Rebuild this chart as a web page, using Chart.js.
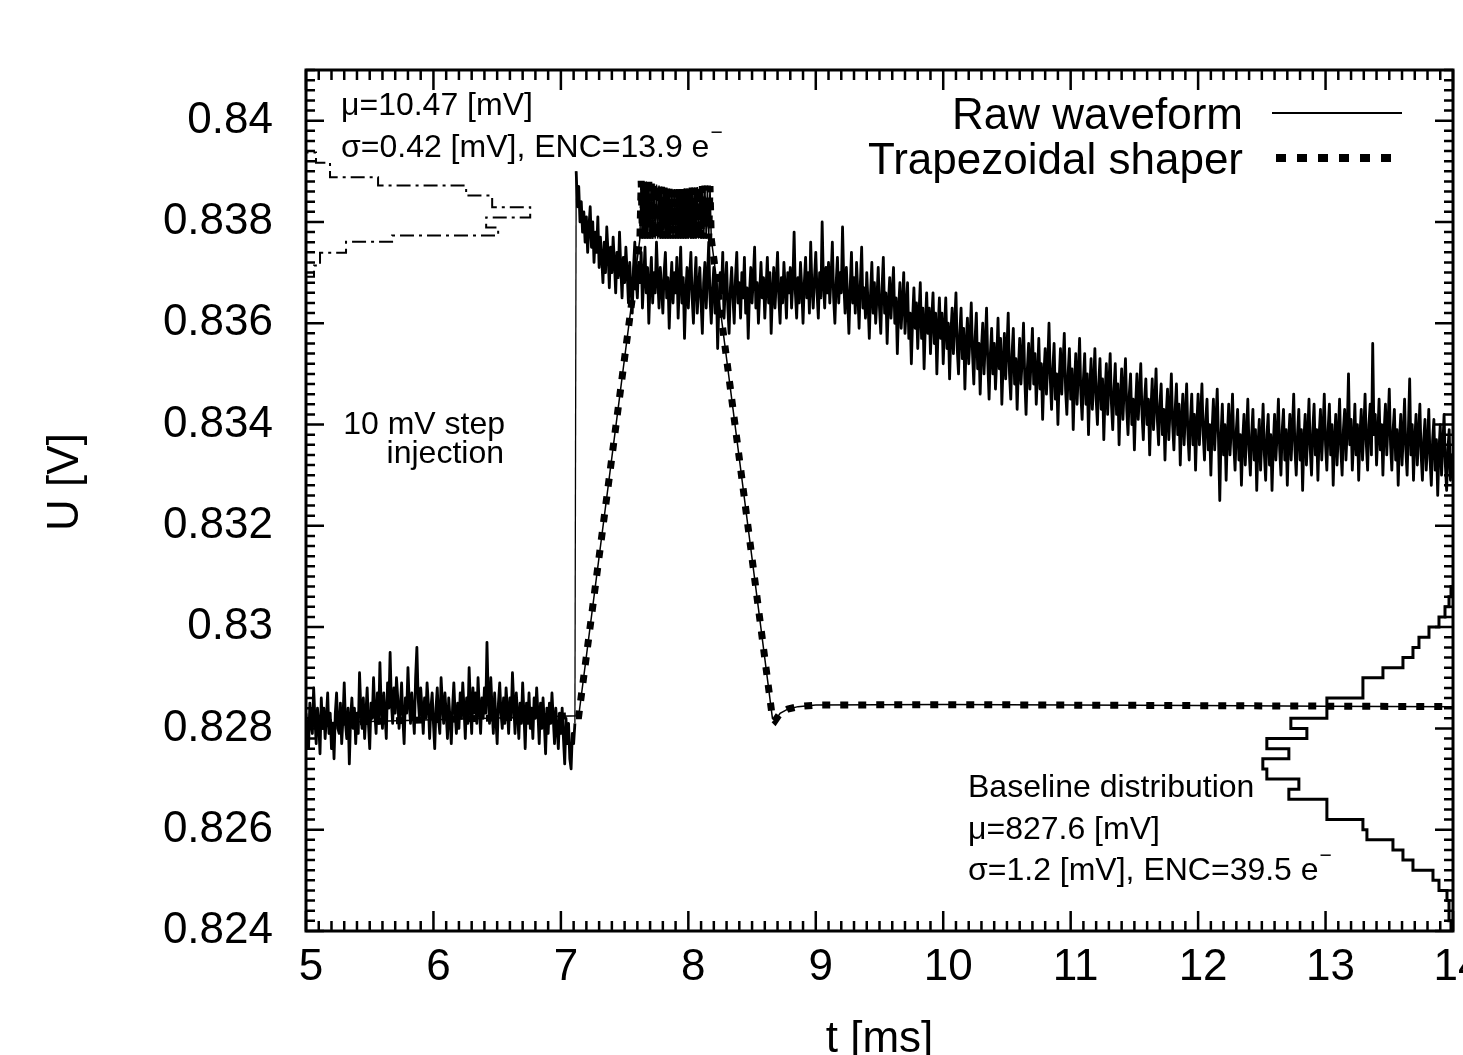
<!DOCTYPE html>
<html><head><meta charset="utf-8">
<script src="https://cdn.jsdelivr.net/npm/chart.js@4.4.1/dist/chart.umd.min.js"></script>
<style>html,body{margin:0;padding:0;background:#fff;overflow:hidden}canvas{display:block}</style>
</head><body>
<canvas id="c" width="1463" height="1055" style="width:1463px;height:1055px"></canvas>
<script>
// ---------------- data ----------------
const xTickLabels = ['5','6','7','8','9','10','11','12','13','14'];
const yTickLabels = ['0.824','0.826','0.828','0.83','0.832','0.834','0.836','0.838','0.84'];
const X_MINOR = 0.1, Y_MINOR = 0.0002;

// raw waveform sampled every T_STEP ms starting at T_START ms (one row = 0.1 ms)
const T_START = 5.0, T_STEP = 0.01;
const rawWaveform = [
0.8283,0.8279,0.8276,0.8285,0.8281,0.8279,0.8288,0.8282,0.8277,0.8284,
0.8281,0.8275,0.8286,0.8280,0.8284,0.8278,0.8282,0.8287,0.8279,0.8283,
0.8276,0.8281,0.8274,0.8283,0.8287,0.8280,0.8279,0.8285,0.8277,0.8282,
0.8289,0.8281,0.8278,0.8284,0.8273,0.8282,0.8286,0.8280,0.8284,0.8277,
0.8283,0.8279,0.8291,0.8284,0.8280,0.8286,0.8278,0.8283,0.8288,0.8281,
0.8276,0.8285,0.8282,0.8290,0.8283,0.8279,0.8287,0.8281,0.8293,0.8284,
0.8280,0.8287,0.8283,0.8278,0.8289,0.8284,0.8295,0.8285,0.8281,0.8288,
0.8283,0.8290,0.8286,0.8280,0.8284,0.8289,0.8282,0.8277,0.8286,0.8283,
0.8292,0.8285,0.8281,0.8287,0.8283,0.8279,0.8290,0.8296,0.8286,0.8282,
0.8288,0.8284,0.8279,0.8286,0.8282,0.8289,0.8285,0.8278,0.8284,0.8287,
0.8281,0.8276,0.8284,0.8288,0.8282,0.8279,0.8290,0.8285,0.8281,0.8287,
0.8283,0.8278,0.8286,0.8282,0.8277,0.8284,0.8289,0.8283,0.8279,0.8285,
0.8280,0.8287,0.8282,0.8289,0.8284,0.8278,0.8286,0.8281,0.8292,0.8285,
0.8279,0.8288,0.8283,0.8287,0.8281,0.8290,0.8284,0.8279,0.8286,0.8282,
0.8288,0.8283,0.8297,0.8286,0.8281,0.8290,0.8284,0.8279,0.8287,0.8282,
0.8277,0.8285,0.8289,0.8283,0.8280,0.8286,0.8281,0.8288,0.8284,0.8279,
0.8286,0.8282,0.8291,0.8285,0.8279,0.8287,0.8283,0.8278,0.8285,0.8281,
0.8289,0.8283,0.8276,0.8285,0.8281,0.8287,0.8280,0.8284,0.8278,0.8286,
0.8282,0.8288,0.8283,0.8277,0.8285,0.8280,0.8286,0.8281,0.8275,0.8284,
0.8279,0.8285,0.8281,0.8287,0.8282,0.8277,0.8284,0.8280,0.8276,0.8283,
0.8279,0.8284,0.8278,0.8273,0.8282,0.8277,0.8281,0.8274,0.8272,0.8279,
0.8277,0.8281,
0.8390,0.8383,0.8387,0.8380,0.8384,0.8378,0.8382,0.8376,
0.8381,0.8374,0.8379,0.8383,0.8375,0.8380,0.8372,0.8378,0.8374,0.8381,
0.8371,0.8377,0.8373,0.8368,0.8376,0.8370,0.8379,0.8374,0.8367,0.8375,
0.8370,0.8377,0.8372,0.8366,0.8374,0.8369,0.8378,0.8371,0.8365,0.8373,
0.8368,0.8375,0.8370,0.8364,0.8372,0.8367,0.8362,0.8371,0.8376,0.8369,
0.8365,0.8372,0.8368,0.8374,0.8363,0.8369,0.8375,0.8366,0.8371,0.8360,
0.8368,0.8373,0.8364,0.8370,0.8366,0.8376,0.8369,0.8363,0.8371,0.8367,
0.8362,0.8370,0.8374,0.8365,0.8369,0.8359,0.8367,0.8372,0.8364,0.8370,
0.8366,0.8373,0.8361,0.8368,0.8375,0.8364,0.8369,0.8357,0.8366,0.8371,
0.8363,0.8369,0.8374,0.8365,0.8360,0.8368,0.8373,0.8362,0.8367,0.8371,
0.8364,0.8358,0.8368,0.8372,0.8363,0.8369,0.8376,0.8365,0.8360,0.8367,
0.8371,0.8362,0.8368,0.8355,0.8364,0.8370,0.8366,0.8374,0.8361,0.8367,
0.8372,0.8363,0.8358,0.8367,0.8371,0.8365,0.8360,0.8369,0.8374,0.8364,
0.8368,0.8361,0.8370,0.8365,0.8373,0.8362,0.8367,0.8357,0.8366,0.8371,
0.8364,0.8369,0.8375,0.8363,0.8368,0.8360,0.8366,0.8372,0.8365,0.8369,
0.8361,0.8367,0.8373,0.8364,0.8370,0.8358,0.8366,0.8371,0.8363,0.8368,
0.8374,0.8365,0.8360,0.8369,0.8364,0.8372,0.8367,0.8361,0.8370,0.8366,
0.8371,0.8363,0.8368,0.8378,0.8366,0.8361,0.8369,0.8364,0.8372,0.8367,
0.8360,0.8368,0.8373,0.8365,0.8370,0.8362,0.8376,0.8367,0.8363,0.8369,
0.8374,0.8366,0.8361,0.8370,0.8365,0.8380,0.8368,0.8363,0.8371,0.8366,
0.8372,0.8364,0.8369,0.8376,0.8365,0.8360,0.8368,0.8373,0.8364,0.8370,
0.8366,0.8379,0.8368,0.8362,0.8371,0.8365,0.8358,0.8367,0.8374,0.8364,
0.8369,0.8362,0.8372,0.8366,0.8359,0.8368,0.8375,0.8363,0.8367,0.8361,
0.8370,0.8364,0.8357,0.8366,0.8372,0.8362,0.8368,0.8360,0.8365,0.8371,
0.8363,0.8358,0.8367,0.8373,0.8362,0.8366,0.8356,0.8364,0.8369,0.8361,
0.8366,0.8371,0.8360,0.8365,0.8354,0.8363,0.8368,0.8359,0.8364,0.8370,
0.8358,0.8363,0.8368,0.8357,0.8362,0.8352,0.8361,0.8367,0.8359,0.8364,
0.8355,0.8362,0.8368,0.8357,0.8363,0.8351,0.8360,0.8366,0.8358,0.8363,
0.8354,0.8361,0.8366,0.8356,0.8362,0.8350,0.8359,0.8365,0.8357,0.8362,
0.8352,0.8359,0.8365,0.8355,0.8360,0.8349,0.8358,0.8363,0.8354,0.8360,
0.8366,0.8355,0.8350,0.8358,0.8363,0.8353,0.8359,0.8347,0.8356,0.8361,
0.8352,0.8357,0.8364,0.8354,0.8348,0.8357,0.8362,0.8351,0.8356,0.8346,
0.8355,0.8360,0.8350,0.8356,0.8363,0.8352,0.8345,0.8354,0.8359,0.8350,
0.8356,0.8347,0.8353,0.8361,0.8351,0.8357,0.8344,0.8352,0.8358,0.8349,
0.8355,0.8362,0.8350,0.8345,0.8354,0.8359,0.8348,0.8353,0.8343,0.8351,
0.8357,0.8348,0.8353,0.8360,0.8349,0.8342,0.8351,0.8356,0.8347,0.8353,
0.8359,0.8348,0.8354,0.8344,0.8350,0.8357,0.8347,0.8352,0.8341,0.8350,
0.8355,0.8346,0.8352,0.8360,0.8349,0.8343,0.8351,0.8356,0.8345,0.8350,
0.8340,0.8349,0.8355,0.8346,0.8352,0.8358,0.8347,0.8342,0.8350,0.8355,
0.8345,0.8351,0.8339,0.8348,0.8354,0.8344,0.8350,0.8357,0.8346,0.8341,
0.8349,0.8354,0.8344,0.8350,0.8338,0.8347,0.8353,0.8343,0.8348,0.8355,
0.8345,0.8340,0.8348,0.8353,0.8343,0.8349,0.8337,0.8346,0.8352,0.8342,
0.8348,0.8354,0.8344,0.8339,0.8347,0.8352,0.8342,0.8348,0.8336,0.8345,
0.8351,0.8341,0.8347,0.8353,0.8343,0.8338,0.8346,0.8350,0.8340,0.8345,
0.8335,0.8344,0.8350,0.8341,0.8346,0.8352,0.8342,0.8337,0.8345,0.8349,
0.8340,0.8345,0.8334,0.8343,0.8349,0.8339,0.8344,0.8351,0.8341,0.8336,
0.8344,0.8348,0.8338,0.8343,0.8333,0.8342,0.8347,0.8337,0.8343,0.8350,
0.8340,0.8335,0.8343,0.8348,0.8338,0.8344,0.8332,0.8341,0.8346,0.8336,
0.8342,0.8348,0.8338,0.8333,0.8341,0.8346,0.8336,0.8342,0.8331,0.8340,
0.8346,0.8336,0.8342,0.8348,0.8338,0.8333,0.8341,0.8345,0.8335,0.8340,
0.8330,0.8339,0.8345,0.8335,0.8341,0.8347,0.8337,0.8325,0.8338,0.8344,
0.8334,0.8340,0.8329,0.8338,0.8344,0.8334,0.8339,0.8346,0.8336,0.8331,
0.8339,0.8343,0.8333,0.8338,0.8328,0.8337,0.8342,0.8332,0.8338,0.8345,
0.8335,0.8330,0.8338,0.8343,0.8333,0.8339,0.8327,0.8336,0.8341,0.8331,
0.8337,0.8344,0.8334,0.8329,0.8338,0.8342,0.8332,0.8338,0.8327,0.8336,
0.8342,0.8333,0.8338,0.8345,0.8335,0.8330,0.8339,0.8343,0.8333,0.8339,
0.8328,0.8337,0.8342,0.8333,0.8339,0.8346,0.8335,0.8330,0.8338,0.8343,
0.8333,0.8339,0.8327,0.8337,0.8342,0.8332,0.8338,0.8345,0.8335,0.8330,
0.8339,0.8344,0.8334,0.8339,0.8329,0.8338,0.8343,0.8333,0.8339,0.8346,
0.8336,0.8331,0.8339,0.8344,0.8334,0.8340,0.8328,0.8337,0.8342,0.8332,
0.8338,0.8345,0.8335,0.8330,0.8339,0.8343,0.8333,0.8339,0.8350,0.8336,
0.8341,0.8331,0.8337,0.8344,0.8334,0.8340,0.8329,0.8338,0.8343,0.8333,
0.8339,0.8346,0.8336,0.8331,0.8340,0.8344,0.8334,0.8356,0.8338,0.8342,
0.8332,0.8338,0.8345,0.8335,0.8340,0.8330,0.8339,0.8344,0.8334,0.8340,
0.8347,0.8336,0.8331,0.8339,0.8343,0.8333,0.8339,0.8328,0.8337,0.8342,
0.8332,0.8338,0.8345,0.8335,0.8330,0.8339,0.8349,0.8334,0.8340,0.8329,
0.8337,0.8342,0.8332,0.8338,0.8344,0.8334,0.8329,0.8337,0.8341,0.8331,
0.8336,0.8343,0.8333,0.8328,0.8337,0.8341,0.8331,0.8337,0.8326,0.8335,
0.8340,0.8330,0.8336,0.8342,0.8332,0.8327,0.8335,0.8339,0.8329,0.8334,
0.8332
];

// trapezoidal shaper output (time in ms, value in V)
const shaperTime = [
5.00,7.14,7.62,
7.63,7.64,7.65,7.66,7.67,7.68,7.69,7.70,7.71,7.72,7.73,7.74,7.75,7.76,7.77,7.78,
7.79,7.80,7.81,7.82,7.83,7.84,7.85,7.86,7.87,7.88,7.89,7.90,7.91,7.92,7.93,7.94,
7.95,7.96,7.97,7.98,7.99,8.00,8.01,8.02,8.03,8.04,8.05,8.06,8.07,8.08,8.09,8.10,
8.11,8.12,8.13,8.14,8.15,8.16,8.17,8.18,
8.66,8.68,8.72,8.78,8.86,9.00,10.00,11.00,12.00,13.00,14.00
];
const shaperValues = [
0.82810,0.82825,0.83767,
0.83881,0.83767,0.83881,0.83767,0.83880,0.83767,0.83879,0.83767,0.83876,0.83767,0.83875,0.83767,0.83874,0.83767,0.83872,0.83767,
0.83870,0.83767,0.83868,0.83767,0.83867,0.83767,0.83866,0.83767,0.83865,0.83767,0.83865,0.83767,0.83865,0.83767,0.83865,0.83767,
0.83865,0.83767,0.83866,0.83767,0.83866,0.83767,0.83867,0.83767,0.83868,0.83767,0.83868,0.83767,0.83869,0.83767,0.83870,0.83767,
0.83871,0.83767,0.83872,0.83767,0.83872,0.83767,0.83871,0.83767,
0.82820,0.82815,0.82830,0.82838,0.82843,0.82846,0.82847,0.82846,0.82845,0.82844,0.82843
];

// amplitude distribution of injected step (bin edges in V, counts)
const injHistEdges = [0.83692,0.83714,0.83739,0.83761,0.83773,0.83789,0.83809,0.83829,0.83852,0.83872,0.83888,0.83917,0.83937];
const injHistCounts = [4,7,20,43,96,90,112,93,80,36,12,5];

// baseline distribution (bin edges in V, counts)
const baseHistEdges = [0.8240,0.8242,0.8244,0.8246,0.8248,0.8250,0.8252,0.8254,0.8256,0.8258,0.8260,0.8262,0.8264,0.8266,0.8268,0.8270,0.8272,0.8274,0.8276,0.8278,0.8280,0.8282,0.8284,0.8286,0.8288,0.8290,0.8292,0.8294,0.8296,0.8298,0.8300,0.8302,0.8304,0.8306,0.8308];
const baseHistCounts = [1,2,2,3,7,10,20,25,30,43,45,63,63,82,77,93,95,82,93,73,81,63,63,45,45,35,25,20,17,12,7,4,2,1];
const HIST_MAX = 573;

// ---------------- chart ----------------
const FONT = '"Liberation Sans", Arial, Helvetica, sans-serif';
Chart.defaults.font.family = FONT;
Chart.defaults.color = '#000';

const rawPoints = rawWaveform.map((v, i) => ({x: T_START + i * T_STEP, y: v}));
const shaperPoints = shaperTime.map((t, i) => ({x: t, y: shaperValues[i]}));
function histPath(edges, counts) {
  const pts = [{x: 0, y: edges[0]}];
  counts.forEach((c, i) => { pts.push({x: c, y: edges[i]}); pts.push({x: c, y: edges[i + 1]}); });
  pts.push({x: 0, y: edges[edges.length - 1]});
  return pts;
}

function drawSup(ctx, text, sup, x, y, size) {
  ctx.font = size + 'px ' + FONT;
  ctx.fillText(text, x, y);
  const w = ctx.measureText(text).width;
  ctx.font = Math.round(size * 0.65) + 'px ' + FONT;
  ctx.fillText(sup, x + w + 1, y - size * 0.55);
}

const overlayPlugin = {
  id: 'overlay',
  afterDraw(chart) {
    const {ctx, chartArea: a, scales} = chart;
    const xs = scales.x, ys = scales.y;
    ctx.save();
    ctx.strokeStyle = '#000';
    ctx.fillStyle = '#000';
    // inward ticks on all four sides
    ctx.lineWidth = 2.5;
    ctx.beginPath();
    const xMaj = xTickLabels.map(Number), yMaj = yTickLabels.map(Number);
    const nx = Math.round((xMaj[xMaj.length - 1] - xMaj[0]) / X_MINOR);
    for (let k = 0; k <= nx; k++) {
      const px = xs.getPixelForValue(xMaj[0] + k * X_MINOR);
      const L = (k % 10 === 0) ? 20 : 10;
      ctx.moveTo(px, a.bottom); ctx.lineTo(px, a.bottom - L);
      ctx.moveTo(px, a.top); ctx.lineTo(px, a.top + L);
    }
    const ny = Math.round((ys.max - yMaj[0]) / Y_MINOR);
    for (let k = 0; k <= ny; k++) {
      const py = ys.getPixelForValue(yMaj[0] + k * Y_MINOR);
      const L = (k % 10 === 0) ? 18 : 9;
      ctx.moveTo(a.left, py); ctx.lineTo(a.left + L, py);
      ctx.moveTo(a.right, py); ctx.lineTo(a.right - L, py);
    }
    ctx.stroke();
    // frame
    ctx.lineWidth = 3;
    ctx.strokeRect(a.left, a.top, a.right - a.left, a.bottom - a.top);

    // axis titles
    ctx.font = '44px ' + FONT;
    ctx.textAlign = 'center';
    ctx.textBaseline = 'alphabetic';
    ctx.fillText('t [ms]', (a.left + a.right) / 2, 1052);
    ctx.save();
    ctx.translate(78, 482);
    ctx.rotate(-Math.PI / 2);
    ctx.fillText('U [V]', 0, 0);
    ctx.restore();

    // legend
    const dsRaw = chart.data.datasets[0], dsShp = chart.data.datasets[1];
    ctx.textAlign = 'right';
    ctx.font = '44px ' + FONT;
    ctx.fillText(dsRaw.label, 1243, 129);
    ctx.fillText(dsShp.label, 1243, 174);
    ctx.beginPath();
    ctx.lineWidth = 2;
    ctx.moveTo(1272, 113); ctx.lineTo(1402, 113);
    ctx.stroke();
    ctx.beginPath();
    ctx.lineWidth = 8;
    ctx.setLineDash([10, 11]);
    ctx.moveTo(1276, 158); ctx.lineTo(1402, 158);
    ctx.stroke();
    ctx.setLineDash([]);

    // annotations
    ctx.textAlign = 'left';
    ctx.font = '32px ' + FONT;
    ctx.fillText('\u03bc=10.47 [mV]', 341, 115);
    drawSup(ctx, '\u03c3=0.42 [mV], ENC=13.9 e', '\u2212', 341, 157, 32);
    ctx.font = '32px ' + FONT;
    ctx.textAlign = 'right';
    ctx.fillText('10 mV step', 505, 434);
    ctx.fillText('injection', 504, 463);
    ctx.textAlign = 'left';
    ctx.fillText('Baseline distribution', 968, 797);
    ctx.fillText('\u03bc=827.6 [mV]', 968, 839);
    drawSup(ctx, '\u03c3=1.2 [mV], ENC=39.5 e', '\u2212', 968, 880, 32);
    ctx.restore();
  }
};

new Chart(document.getElementById('c').getContext('2d'), {
  type: 'scatter',
  data: {
    datasets: [
      {label: 'Raw waveform', data: rawPoints, showLine: true, borderColor: '#000', borderWidth: 2.8,
       borderJoinStyle: 'round', pointRadius: 0, order: 1, xAxisID: 'x', yAxisID: 'y',
       segment: {borderWidth: c => (Math.abs(c.p1.parsed.y - c.p0.parsed.y) > 0.005 ? 1.3 : undefined)}},
      {label: 'Trapezoidal shaper', data: shaperPoints, showLine: true, borderColor: '#000', borderWidth: 7,
       borderDash: [8, 10], pointRadius: 0, order: 2, xAxisID: 'x', yAxisID: 'y'},
      {label: '', data: shaperPoints, showLine: true, borderColor: '#000', borderWidth: 1.5,
       pointRadius: 0, order: 3, xAxisID: 'x', yAxisID: 'y'},
      {label: '', data: histPath(injHistEdges, injHistCounts), showLine: true, borderColor: '#000', borderWidth: 2,
       borderDash: [14, 5, 3, 5], pointRadius: 0, order: 4, xAxisID: 'xh1', yAxisID: 'y'},
      {label: '', data: histPath(baseHistEdges, baseHistCounts), showLine: true, borderColor: '#000', borderWidth: 3,
       pointRadius: 0, order: 4, xAxisID: 'xh2', yAxisID: 'y'}
    ]
  },
  options: {
    responsive: false,
    animation: false,
    devicePixelRatio: 1,
    events: [],
    layout: {padding: {top: 70, right: 10, left: 0, bottom: 0}},
    plugins: {legend: {display: false}, tooltip: {enabled: false}},
    scales: {
      x: {
        type: 'linear', position: 'bottom', min: 5, max: 14,
        afterBuildTicks(s) { s.ticks = xTickLabels.map(l => ({value: Number(l)})); },
        afterFit(s) { s.height = 124; s.paddingLeft = 0; s.paddingRight = 0; },
        grid: {display: false, drawTicks: false},
        border: {display: false},
        ticks: {font: {size: 44}, padding: 10, labelOffset: 5, maxRotation: 0, autoSkip: false,
                callback: (v, i) => xTickLabels[i]}
      },
      y: {
        type: 'linear', position: 'left', min: 0.824, max: 0.841,
        afterBuildTicks(s) { s.ticks = yTickLabels.map(l => ({value: Number(l)})); },
        afterFit(s) { s.width = 306; s.paddingTop = 0; s.paddingBottom = 0; },
        grid: {display: false, drawTicks: false},
        border: {display: false},
        ticks: {font: {size: 44}, padding: 33, autoSkip: false,
                callback: (v, i) => yTickLabels[i]}
      },
      xh1: {type: 'linear', display: false, min: 0, max: HIST_MAX},
      xh2: {type: 'linear', display: false, min: 0, max: HIST_MAX, reverse: true}
    }
  },
  plugins: [overlayPlugin]
});
</script>
</body></html>
